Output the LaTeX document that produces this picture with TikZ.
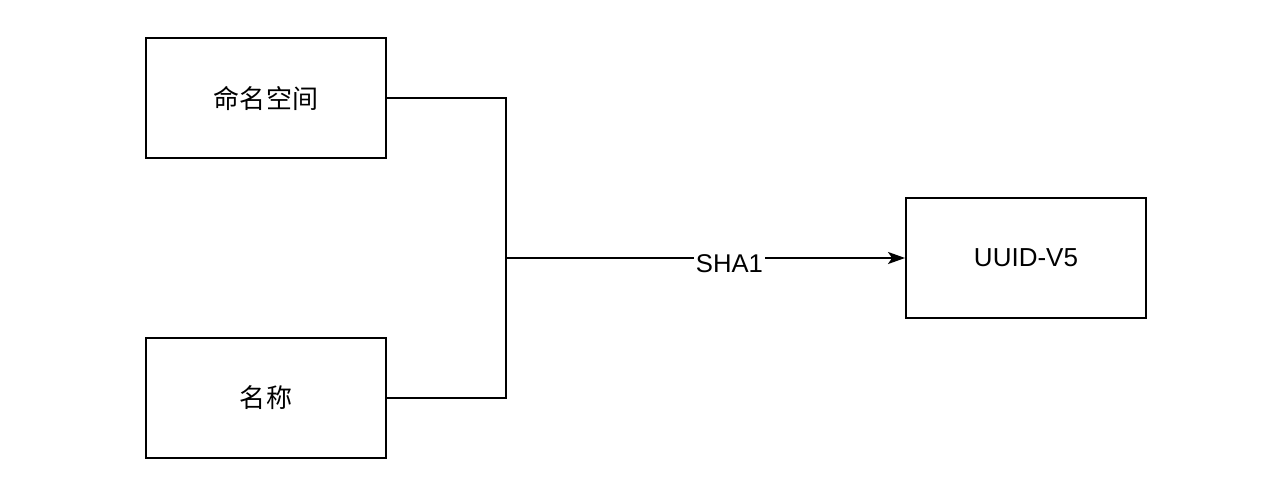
\documentclass[tikz,border=0pt]{standalone}
\usepackage{fontspec}
\setmainfont{Liberation Sans}
\newfontfamily\cjk{Noto Sans CJK SC}
\usepackage{tikz}
\usetikzlibrary{arrows.meta,positioning}

\tikzset{
	box/.style={draw, line width=1.1pt, minimum width=4.8cm, minimum height=2.4cm, font=\fontsize{14.8}{17}\selectfont},
	link/.style={line width=1.1pt},
}

\begin{document}
\begin{tikzpicture}
	\useasboundingbox (0,0) rectangle (25.24,9.8);
	\node[box] (ns) at (5.32,7.84) {\cjk 命名空间};
	\node[box] (name) at (5.32,1.84) {\cjk 名称};
	\node[box] (uuid) at (20.52,4.64) {UUID-V5};
	\coordinate (join) at (10.12,4.64);
	\draw[link] (ns.east) -| (join);
	\draw[link] (name.east) -| (join);
	\draw[link,-{Stealth[length=0.34cm,width=0.24cm,inset=0.08cm]}] (join) -- (uuid.west)
		node[pos=0.56, yshift=-0.12cm, fill=white, inner sep=0.04cm, font=\fontsize{14.6}{17}\selectfont] (hash) {SHA1};
\end{tikzpicture}
\end{document}
